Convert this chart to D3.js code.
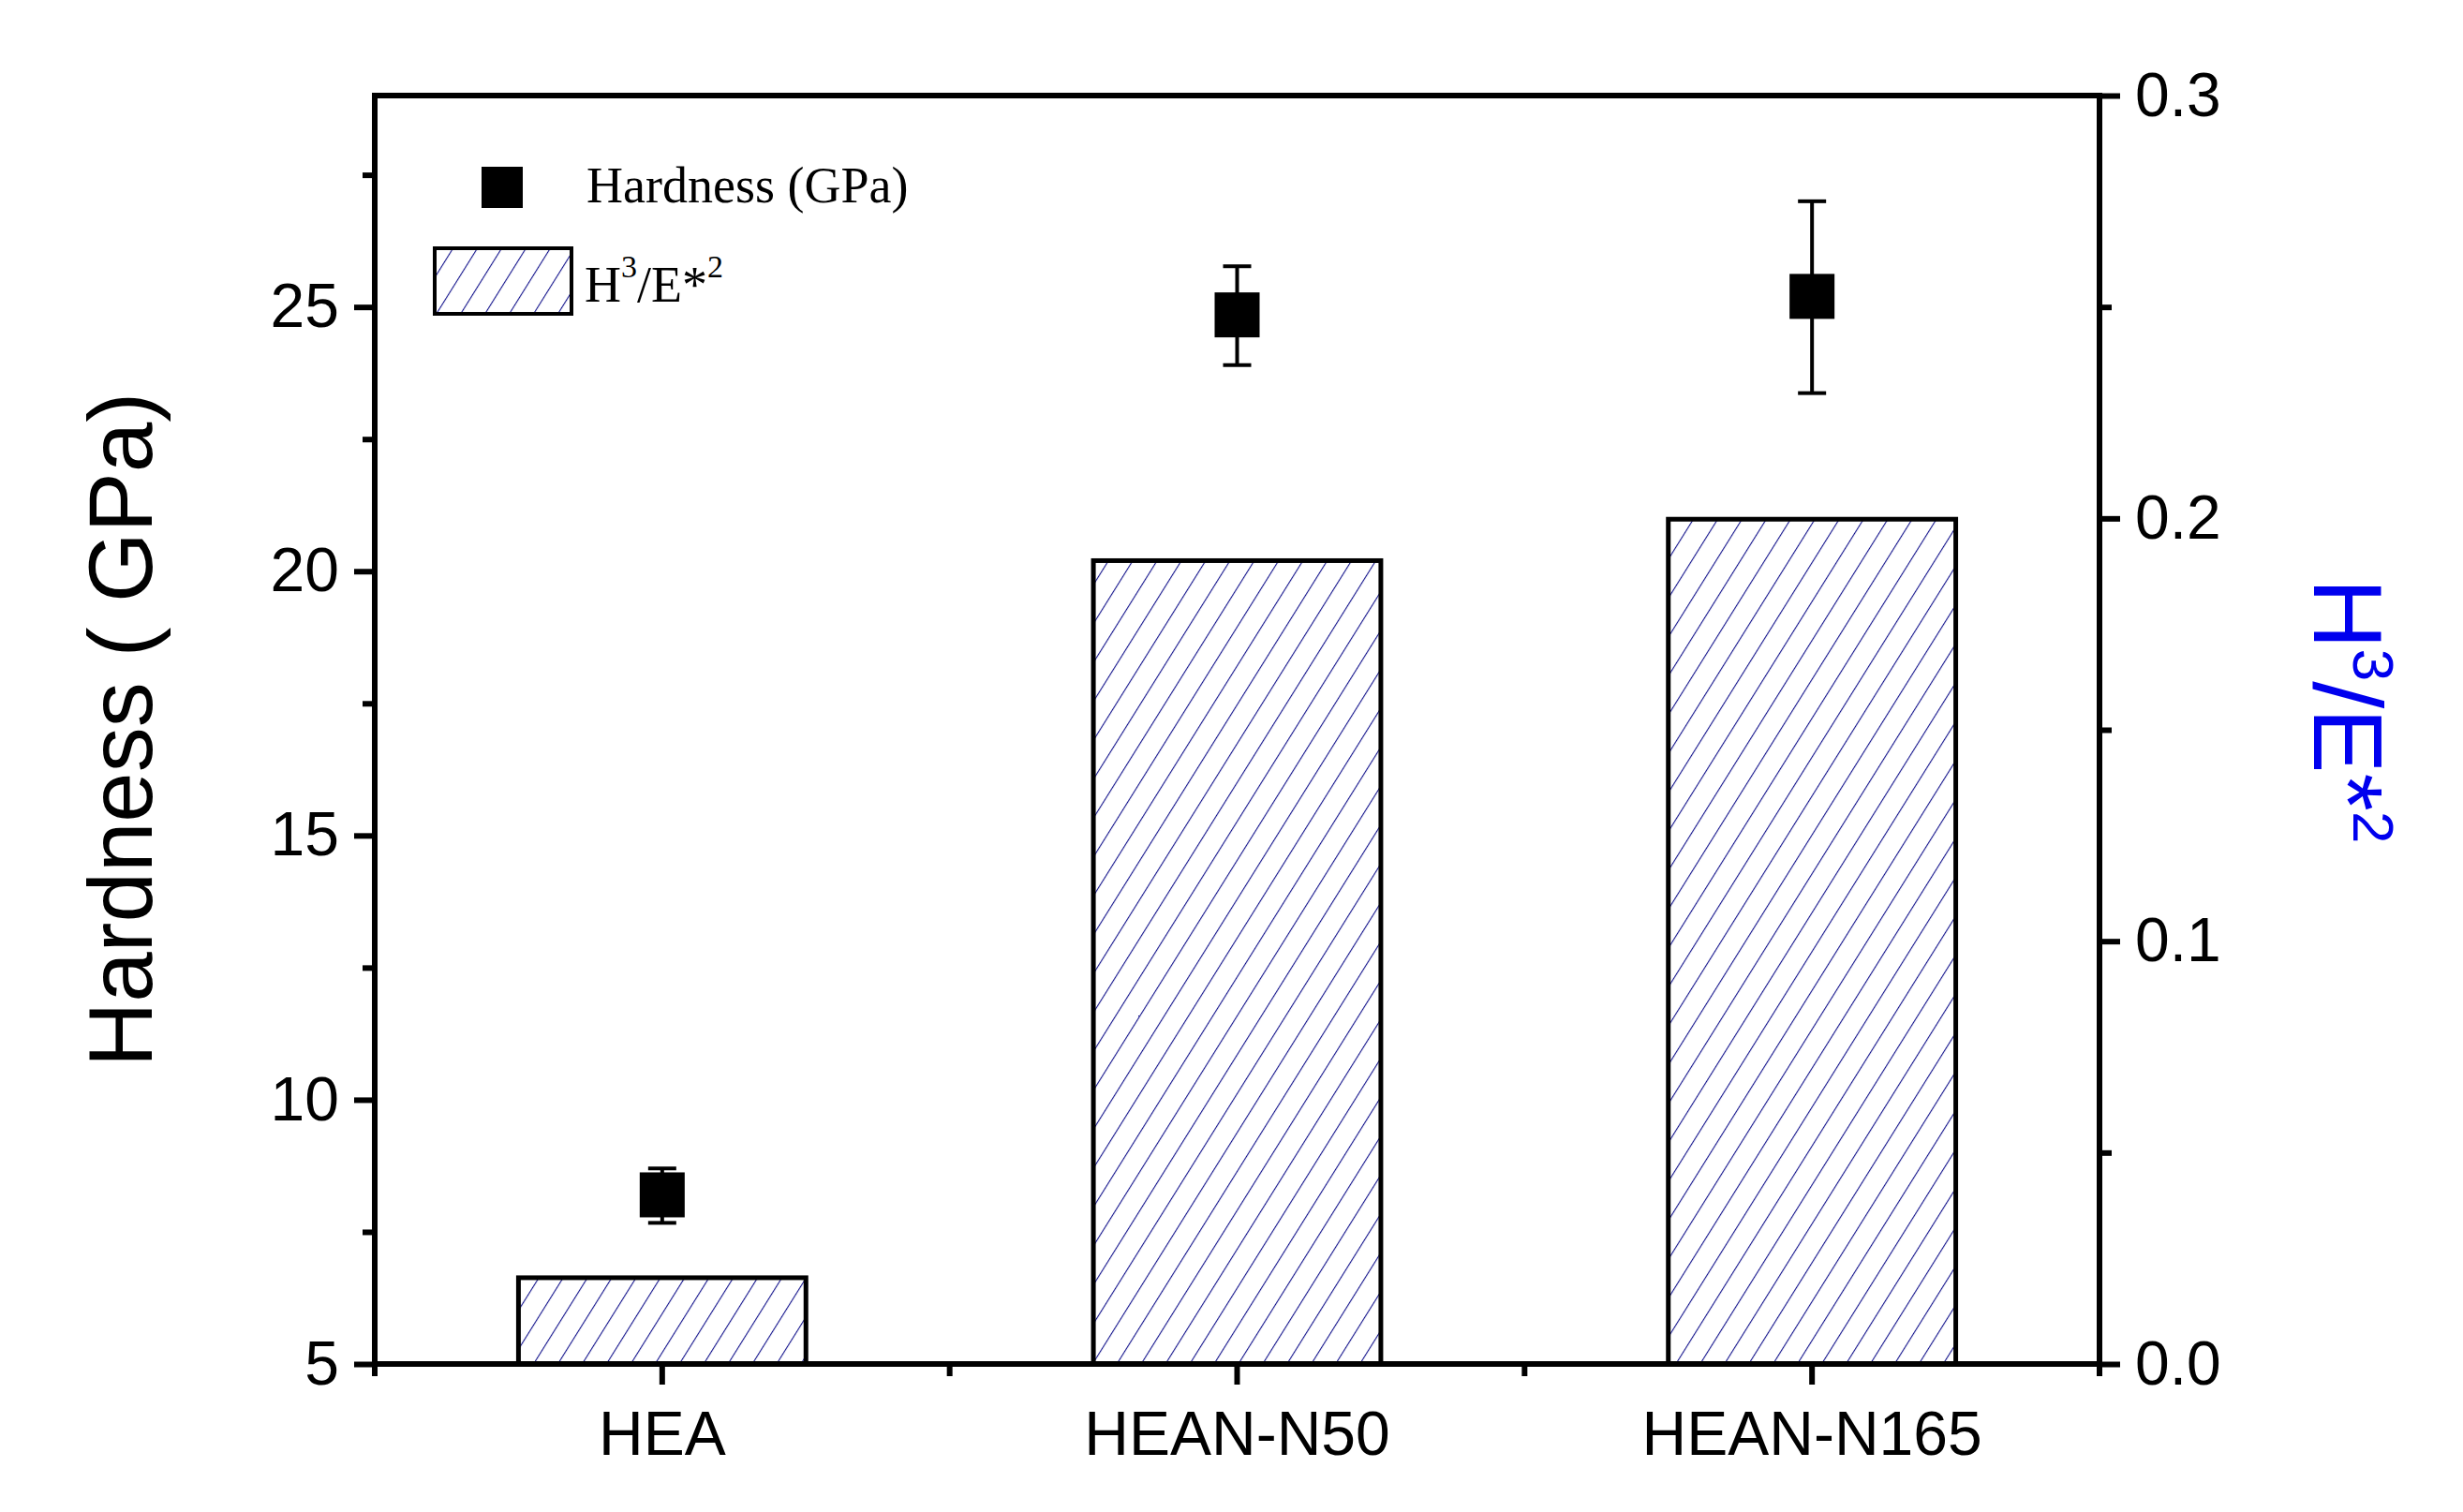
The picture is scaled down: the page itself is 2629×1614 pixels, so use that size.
<!DOCTYPE html>
<html><head><meta charset="utf-8">
<script src="https://cdn.jsdelivr.net/npm/d3@7"></script>
<style>body{margin:0;background:#fff}</style></head>
<body><svg id="c" width="2629" height="1614"></svg>
<script>
const categories = ["HEA","HEAN-N50","HEAN-N165"];
const hardness = [8.2, 24.85, 25.2];
const hardErrLow = [7.67, 23.9, 23.37];
const hardErrHigh = [8.7, 25.77, 27.0];
const ratio = [0.0204, 0.190, 0.1998];
const leftTicks = [5,10,15,20,25];
const rightTicks = [0.0,0.1,0.2,0.3];

const svg = d3.select("#c");
const L=400, R=2241, T=102, B=1456;
const x = d3.scaleBand().domain(categories).range([L,R]);
const yL = d3.scaleLinear().domain([5,29]).range([B,T]);
const yR = d3.scaleLinear().domain([0,0.3]).range([B,T]);
const defs = svg.append("defs");
const pat = defs.append("pattern").attr("id","hatch").attr("patternUnits","userSpaceOnUse")
  .attr("width",22).attr("height",22).attr("patternTransform","rotate(32)");
pat.append("line").attr("x1",0).attr("y1",0).attr("x2",0).attr("y2",22).attr("stroke","#14148c").attr("stroke-width",2.2);

const bw = x.bandwidth()/2;
svg.selectAll(".bar").data(categories).enter().append("rect")
  .attr("x",d=>x(d)+x.bandwidth()/2-bw/2).attr("width",bw)
  .attr("y",(d,i)=>yR(ratio[i])).attr("height",(d,i)=>B-yR(ratio[i]))
  .attr("fill","url(#hatch)").attr("stroke","#000").attr("stroke-width",5);

svg.append("rect").attr("x",L).attr("y",T).attr("width",R-L).attr("height",B-T).attr("fill","none").attr("stroke","#000").attr("stroke-width",6);

const ff="'Liberation Sans Narrow', Arial, 'Liberation Sans', sans-serif";
const la = svg.append("g").attr("transform",`translate(${L},0)`)
  .call(d3.axisLeft(yL).tickValues(leftTicks).tickSize(22).tickPadding(16).tickFormat(d3.format("d")));
la.append("g").call(d3.axisLeft(yL).tickValues([7.5,12.5,17.5,22.5,27.5]).tickSize(13).tickFormat(""));
const ra = svg.append("g").attr("transform",`translate(${R},0)`)
  .call(d3.axisRight(yR).tickValues(rightTicks).tickSize(22).tickPadding(16).tickFormat(d3.format(".1f")));
ra.append("g").call(d3.axisRight(yR).tickValues([0.05,0.15,0.25]).tickSize(13).tickFormat(""));
const ba = svg.append("g").attr("transform",`translate(0,${B})`)
  .call(d3.axisBottom(x).tickSize(22).tickPadding(28));
const minorX = [L, ...categories.slice(1).map(c=>x(c)), R];
ba.selectAll(".mx").data(minorX).enter().append("line").attr("x1",d=>d).attr("x2",d=>d).attr("y1",0).attr("y2",13).attr("stroke","#000").attr("stroke-width",6);
svg.selectAll(".domain").remove();
svg.selectAll(".tick line").attr("stroke-width",6);
svg.selectAll(".tick text").attr("font-family",ff).attr("font-size",66).attr("fill","#000");

const g = svg.append("g");
categories.forEach((c,i)=>{
  const cx = x(c)+x.bandwidth()/2;
  g.append("line").attr("x1",cx).attr("x2",cx).attr("y1",yL(hardErrLow[i])).attr("y2",yL(hardErrHigh[i])).attr("stroke","#000").attr("stroke-width",4);
  [hardErrLow[i],hardErrHigh[i]].forEach(v=>g.append("line").attr("x1",cx-15).attr("x2",cx+15).attr("y1",yL(v)).attr("y2",yL(v)).attr("stroke","#000").attr("stroke-width",4));
  g.append("rect").attr("x",cx-24).attr("y",yL(hardness[i])-24).attr("width",48).attr("height",48).attr("fill","#000");
});

svg.append("text").attr("transform",`translate(162,${(T+B)/2}) rotate(-90)`).attr("text-anchor","middle")
  .attr("font-family","Arial, 'Liberation Sans', sans-serif").attr("font-size",96).text("Hardness ( GPa)");
const rt = svg.append("text").attr("transform",`translate(2470,${(T+B)/2-20}) rotate(90)`).attr("text-anchor","middle")
  .attr("font-family","Arial, 'Liberation Sans', sans-serif").attr("font-size",104).attr("fill","#0000ee");
rt.append("tspan").text("H");
rt.append("tspan").attr("dy",-42).attr("font-size",62).text("3");
rt.append("tspan").attr("dy",42).text("/E*");
rt.append("tspan").attr("dy",-42).attr("font-size",62).text("2");

const sf="'Liberation Serif','Times New Roman',serif";
svg.append("rect").attr("x",514).attr("y",178).attr("width",44).attr("height",44).attr("fill","#000");
svg.append("text").attr("x",626).attr("y",216).attr("font-family",sf).attr("font-size",54).text("Hardness (GPa)");
svg.append("rect").attr("x",464).attr("y",265).attr("width",146).attr("height",70).attr("fill","url(#hatch)").attr("stroke","#000").attr("stroke-width",4);
const lt = svg.append("text").attr("x",624).attr("y",322).attr("font-family",sf).attr("font-size",54);
lt.append("tspan").text("H");
lt.append("tspan").attr("dy",-26).attr("font-size",34).text("3");
lt.append("tspan").attr("dy",26).text("/E*");
lt.append("tspan").attr("dy",-26).attr("font-size",34).text("2");
</script></body></html>
